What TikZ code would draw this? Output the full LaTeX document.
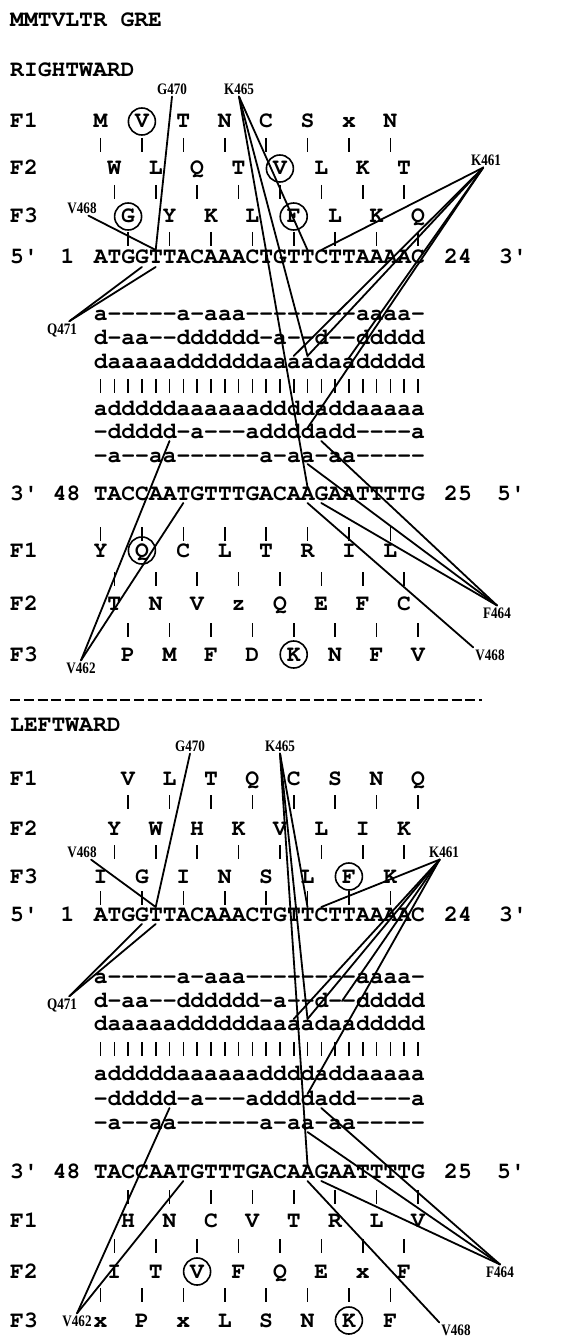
\documentclass[tikz,border=0pt]{standalone}
\usepackage{fontspec}
\usetikzlibrary{calc}
\newfontfamily\seqfont{TeX Gyre Cursor}
\newfontfamily\sitefont{Liberation Serif}[FakeStretch=0.82]
% centre of sequence column #1 (0-based), in pt
\newcommand\ix[1]{100.5+13.8*#1}
% a hyphen that never joins its neighbours into a dash
\newcommand\h{\kern0pt-\kern0pt}

\tikzset{
  mono/.style={font=\seqfont\bfseries\fontsize{23}{23}\selectfont, inner sep=0pt, anchor=base west},
  res/.style={font=\seqfont\bfseries\fontsize{23}{23}\selectfont, inner sep=0pt, anchor=base},
  ring/.style={draw, circle, line width=1.6pt, minimum size=27pt, inner sep=0pt},
  tick/.style={line width=1.6pt},
  site/.style={font=\sitefont\bfseries\fontsize{16}{16}\selectfont, inner sep=2pt},
  link/.style={line width=1.8pt, line cap=round, line join=round},
  sep/.style={line width=1.8pt, dash pattern=on 10pt off 3.8pt},
}

\begin{document}
\begin{tikzpicture}[x=1pt, y=-1pt]
\fill[white] (0,0) rectangle (560,1340);
\useasboundingbox (0,0) rectangle (560,1340);

% ================= RIGHTWARD =================
\node[mono] (title) at (10,27) {MMTVLTR GRE};
\node[mono] (rHead) at (10,77) {RIGHTWARD};

\node[mono] (rF1) at (10,128) {F1};
\node[mono] (rF2) at (10,175) {F2};
\node[mono] (rF3) at (10,223) {F3};
\foreach \sym/\i in {M/0,V/3,T/6,N/9,C/12,S/15,x/18,N/21}
  \node[res] (rA1-\i) at (\ix{\i},128) {\sym};
\foreach \sym/\i in {W/1,L/4,Q/7,T/10,V/13,L/16,K/19,T/22}
  \node[res] (rA2-\i) at (\ix{\i},175) {\sym};
\foreach \sym/\i in {G/2,Y/5,K/8,L/11,F/14,L/17,K/20,Q/23}
  \node[res] (rA3-\i) at (\ix{\i},223) {\sym};
\foreach \n in {rA1-3,rA2-13,rA3-2,rA3-14}
  \node[ring] at ($(\n.base)+(0,-6.5)$) {};
\foreach \i in {0,3,...,21} \draw[tick] (\ix{\i},138) -- (\ix{\i},152);
\foreach \i in {1,4,...,22} \draw[tick] (\ix{\i},185) -- (\ix{\i},199);
\foreach \i in {2,5,...,23} \draw[tick] (\ix{\i},232) -- (\ix{\i},246);

\node[mono] (r5p) at (10,263) {5'};
\node[res]  (rOne) at (67.5,263) {1};
\node[mono] (rTop) at (93.6,263) {ATGGTTACAAACTGTTCTTAAAAC};
\node[mono] (r24) at (444,263) {24};
\node[mono] (r3p) at (499,263) {3'};

\node[mono] (rR1) at (93.6,320) {a\h\h\h\h\h a\h aaa\h\h\h\h\h\h\h\h aaaa\h};
\node[mono] (rR2) at (93.6,344) {d\h aa\h\h dddddd\h a\h\h d\h\h ddddd};
\node[mono] (rR3) at (93.6,368) {daaaaaddddddaaaadaaddddd};
\foreach \i in {0,...,23} \draw[tick] (\ix{\i},379) -- (\ix{\i},393);
\node[mono] (rR5) at (93.6,415) {adddddaaaaaaddddaddaaaaa};
\node[mono] (rR6) at (93.6,438) {\h ddddd\h a\h\h\h addddadd\h\h\h\h a};
\node[mono] (rR7) at (93.6,462) {\h a\h\h aa\h\h\h\h\h\h a\h aa\h aa\h\h\h\h\h};

\node[mono] (r3q) at (10,500) {3'};
\node[mono] (r48) at (52.7,500) {48};
\node[mono] (rBot) at (93.6,500) {TACCAATGTTTGACAAGAATTTTG};
\node[mono] (r25) at (444,500) {25};
\node[mono] (r5q) at (497,500) {5'};

\node[mono] (rG1) at (10,557) {F1};
\node[mono] (rG2) at (10,610) {F2};
\node[mono] (rG3) at (10,661) {F3};
\foreach \sym/\i in {Y/0,Q/3,C/6,L/9,T/12,R/15,I/18,L/21}
  \node[res] (rB1-\i) at (\ix{\i},557) {\sym};
\foreach \sym/\i in {T/1,N/4,V/7,z/10,Q/13,E/16,F/19,C/22}
  \node[res] (rB2-\i) at (\ix{\i},610) {\sym};
\foreach \sym/\i in {P/2,M/5,F/8,D/11,K/14,N/17,F/20,V/23}
  \node[res] (rB3-\i) at (\ix{\i},661) {\sym};
\foreach \n in {rB1-3,rB3-14}
  \node[ring] at ($(\n.base)+(0,-6.5)$) {};
\foreach \i in {0,3,...,21} \draw[tick] (\ix{\i},527) -- (\ix{\i},541);
\foreach \i in {1,4,...,22} \draw[tick] (\ix{\i},572) -- (\ix{\i},586);
\foreach \i in {2,5,...,23} \draw[tick] (\ix{\i},623) -- (\ix{\i},637);

% contact sites, rightward
\node[site] (rG470) at (172,89) {G470};
\node[site] (rK465) at (239,89) {K465};
\node[site] (rK461) at (486,160) {K461};
\node[site] (rV468a) at (82,208) {V468};
\node[site] (rQ471) at (62,330) {Q471};
\node[site] (rF464) at (497,613) {F464};
\node[site] (rV462) at (81,668) {V462};
\node[site] (rV468b) at (490,655) {V468};

\coordinate (rt4) at (\ix{4},250);
\coordinate (rt15) at (\ix{15},250);
\coordinate (rt16) at (\ix{16},250);
\coordinate (rb3) at (\ix{3},267);
\coordinate (rb4) at (\ix{4},267);
\coordinate (ra14) at (\ix{14},356);
\coordinate (ra15) at (\ix{15},356);
\coordinate (ra18) at (\ix{18},358);
\coordinate (rd15) at (\ix{15},428);
\coordinate (rd16) at (\ix{16},441);
\coordinate (re5) at (\ix{5},441);
\coordinate (rg15) at (\ix{15},464);
\coordinate (rB15t) at (\ix{15},487);
\coordinate (rB15) at (\ix{15},503);
\coordinate (rB16) at (\ix{16},503);
\coordinate (rB6) at (\ix{6},503);

\draw[link] (rG470.south) -- (rt4);
\draw[link] (rV468a.-50) -- (rt4);
\draw[link] (rQ471.50) -- (rb3);
\draw[link] (rQ471.50) -- (rb4);
\draw[link] (rK465.south) -- (rt15);
\draw[link] (rK465.south) -- (ra15);
\draw[link] (rK465.south) -- (rB15t);
\draw[link] (rK461.-110) -- (rt16);
\draw[link] (rK461.-110) -- (ra14);
\draw[link] (rK461.-110) -- (ra15);
\draw[link] (rK461.-110) -- (ra18);
\draw[link] (rK461.-110) -- (rd15);
\draw[link] (rF464.north) -- (rd16);
\draw[link] (rF464.north) -- (rg15);
\draw[link] (rF464.north) -- (rB16);
\draw[link] (rV468b.north west) -- (rB15);
\draw[link] (rV462.north) -- (re5);
\draw[link] (rV462.north) -- (rB6);

% ================= separator =================
\draw[sep] (10,700) -- (482,700);

% ================= LEFTWARD =================
\node[mono] (lHead) at (10,731) {LEFTWARD};

\node[mono] (lF1) at (10,785) {F1};
\node[mono] (lF2) at (10,835) {F2};
\node[mono] (lF3) at (10,883) {F3};
\foreach \sym/\i in {V/2,L/5,T/8,Q/11,C/14,S/17,N/20,Q/23}
  \node[res] (lA1-\i) at (\ix{\i},785) {\sym};
\foreach \sym/\i in {Y/1,W/4,H/7,K/10,V/13,L/16,I/19,K/22}
  \node[res] (lA2-\i) at (\ix{\i},835) {\sym};
\foreach \sym/\i in {I/0,G/3,I/6,N/9,S/12,L/15,F/18,K/21}
  \node[res] (lA3-\i) at (\ix{\i},883) {\sym};
\node[ring] at ($(lA3-18.base)+(0,-6.5)$) {};
\foreach \i in {2,5,...,23} \draw[tick] (\ix{\i},795) -- (\ix{\i},809);
\foreach \i in {1,4,...,22} \draw[tick] (\ix{\i},845) -- (\ix{\i},859);
\foreach \i in {0,3,...,21} \draw[tick] (\ix{\i},891) -- (\ix{\i},905);

\node[mono] (l5p) at (10,921) {5'};
\node[res]  (lOne) at (67.5,921) {1};
\node[mono] (lTop) at (93.6,921) {ATGGTTACAAACTGTTCTTAAAAC};
\node[mono] (l24) at (444,921) {24};
\node[mono] (l3p) at (499,921) {3'};

\node[mono] (lR1) at (93.6,983) {a\h\h\h\h\h a\h aaa\h\h\h\h\h\h\h\h aaaa\h};
\node[mono] (lR2) at (93.6,1007) {d\h aa\h\h dddddd\h a\h\h d\h\h ddddd};
\node[mono] (lR3) at (93.6,1030) {daaaaaddddddaaaadaaddddd};
\foreach \i in {0,...,23} \draw[tick] (\ix{\i},1042) -- (\ix{\i},1056);
\node[mono] (lR5) at (93.6,1080) {adddddaaaaaaddddaddaaaaa};
\node[mono] (lR6) at (93.6,1105) {\h ddddd\h a\h\h\h addddadd\h\h\h\h a};
\node[mono] (lR7) at (93.6,1129) {\h a\h\h aa\h\h\h\h\h\h a\h aa\h aa\h\h\h\h\h};

\node[mono] (l3q) at (10,1178) {3'};
\node[mono] (l48) at (52.7,1178) {48};
\node[mono] (lBot) at (93.6,1178) {TACCAATGTTTGACAAGAATTTTG};
\node[mono] (l25) at (444,1178) {25};
\node[mono] (l5q) at (497,1178) {5'};

\node[mono] (lG1) at (10,1227) {F1};
\node[mono] (lG2) at (10,1278) {F2};
\node[mono] (lG3) at (10,1327) {F3};
\foreach \sym/\i in {H/2,N/5,C/8,V/11,T/14,R/17,L/20,V/23}
  \node[res] (lB1-\i) at (\ix{\i},1227) {\sym};
\foreach \sym/\i in {I/1,T/4,V/7,F/10,Q/13,E/16,x/19,F/22}
  \node[res] (lB2-\i) at (\ix{\i},1278) {\sym};
\foreach \sym/\i in {x/0,P/3,x/6,L/9,S/12,N/15,K/18,F/21}
  \node[res] (lB3-\i) at (\ix{\i},1327) {\sym};
\foreach \n in {lB2-7,lB3-18}
  \node[ring] at ($(\n.base)+(0,-6.5)$) {};
\foreach \i in {2,5,...,23} \draw[tick] (\ix{\i},1190) -- (\ix{\i},1204);
\foreach \i in {1,4,...,22} \draw[tick] (\ix{\i},1239) -- (\ix{\i},1253);
\foreach \i in {0,3,...,21} \draw[tick] (\ix{\i},1288) -- (\ix{\i},1302);

% contact sites, leftward
\node[site] (lG470) at (190,746) {G470};
\node[site] (lK465) at (280,746) {K465};
\node[site] (lV468a) at (82,852) {V468};
\node[site] (lK461) at (444,852) {K461};
\node[site] (lQ471) at (62,1005) {Q471};
\node[site] (lF464) at (500,1272) {F464};
\node[site] (lV462) at (77,1321) {V462};
\node[site] (lV468b) at (456,1330) {V468};

\coordinate (lt4) at (\ix{4},907);
\coordinate (lt15) at (\ix{15},907);
\coordinate (lt16) at (\ix{16},907);
\coordinate (lb3) at (\ix{3},924);
\coordinate (lb4) at (\ix{4},924);
\coordinate (la14) at (\ix{14},1019);
\coordinate (la15) at (\ix{15},1019);
\coordinate (la18) at (\ix{17.5},1001);
\coordinate (ld15) at (\ix{15},1094);
\coordinate (ld16) at (\ix{16},1108);
\coordinate (le5) at (\ix{5},1108);
\coordinate (lg15) at (\ix{15},1132);
\coordinate (lB15t) at (\ix{15},1165);
\coordinate (lB15) at (\ix{15},1181);
\coordinate (lB16) at (\ix{16},1181);
\coordinate (lB6) at (\ix{6},1181);

\draw[link] (lG470.south) -- (lt4);
\draw[link] (lV468a.-40) -- (lt4);
\draw[link] (lQ471.50) -- (lb3);
\draw[link] (lQ471.50) -- (lb4);
\draw[link] (lK465.south) -- (lt15);
\draw[link] (lK465.south) -- (la15);
\draw[link] (lK465.south) -- (lB15t);
\draw[link] (lK461.-120) -- (lt16);
\draw[link] (lK461.-120) -- (la14);
\draw[link] (lK461.-120) -- (la15);
\draw[link] (lK461.-120) -- (la18);
\draw[link] (lK461.-120) -- (ld15);
\draw[link] (lF464.north) -- (ld16);
\draw[link] (lF464.north) -- (lg15);
\draw[link] (lF464.north) -- (lB16);
\draw[link] (lV468b.north west) -- (lB15);
\draw[link] (lV462.north) -- (le5);
\draw[link] (lV462.north) -- (lB6);
\end{tikzpicture}
\end{document}
